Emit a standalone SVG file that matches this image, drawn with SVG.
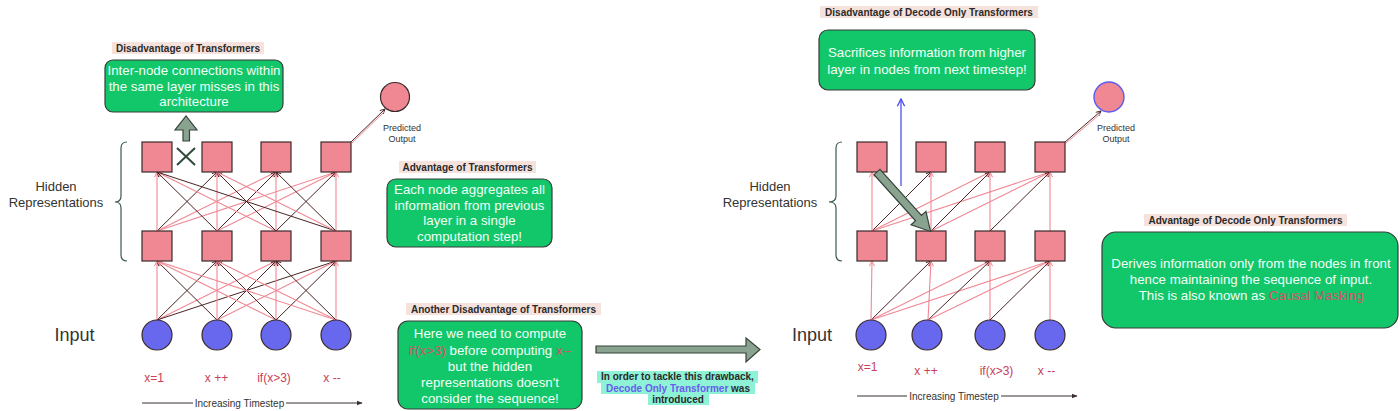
<svg xmlns="http://www.w3.org/2000/svg" width="1400" height="411" viewBox="0 0 1400 411">
<defs>
<style>
.sq{fill:#f08894;stroke:#3a2a2a;stroke-width:1.2}
.in{fill:#6868ee;stroke:#3a2a2a;stroke-width:1.2}
.ep{stroke:#f08894;stroke-width:1.1;fill:none;marker-end:url(#mp)}
.ed{stroke:#4a2424;stroke-width:1;fill:none;marker-end:url(#md)}
.box{fill:#12c769;stroke:#3a3a3a;stroke-width:1.2}
.bt{font-family:"Liberation Sans",Arial,sans-serif;font-size:13.3px;fill:#f2fff8;text-anchor:middle}
.tt{font-family:"Liberation Sans",Arial,sans-serif;font-size:10px;font-weight:bold;fill:#2a2a2a;text-anchor:middle}
.hl{fill:#f6e2dc}
.lab{font-family:"Liberation Sans",Arial,sans-serif;font-size:12px;fill:#c8405a;text-anchor:middle}
.big{font-family:"Liberation Sans",Arial,sans-serif;fill:#333;text-anchor:middle}
.pk{fill:#d8506e}
.sm{font-family:"Liberation Sans",Arial,sans-serif;font-size:9px;fill:#333;text-anchor:middle}
.ts{font-family:"Liberation Sans",Arial,sans-serif;font-size:10px;fill:#333;text-anchor:middle}
.brace{fill:none;stroke:#3c5a4a;stroke-width:1.2}
.blk{fill:#8aa290;stroke:#34443a;stroke-width:1.2}
</style>
<marker id="mp" viewBox="0 0 10 10" refX="9" refY="5" markerWidth="6" markerHeight="6" orient="auto"><path d="M1,1 L9,5 L1,9" fill="none" stroke="#f08894" stroke-width="1.5"/></marker>
<marker id="md" viewBox="0 0 10 10" refX="9" refY="5" markerWidth="6" markerHeight="6" orient="auto"><path d="M1,1 L9,5 L1,9" fill="none" stroke="#4a2424" stroke-width="1.5"/></marker>
<marker id="mb" viewBox="0 0 10 10" refX="9" refY="5" markerWidth="7" markerHeight="7" orient="auto"><path d="M1,1 L9,5 L1,9" fill="none" stroke="#4f4ff0" stroke-width="1.5"/></marker>
<marker id="mt" viewBox="0 0 10 10" refX="9" refY="5" markerWidth="6" markerHeight="6" orient="auto"><path d="M0,1 L10,5 L0,9 Z" fill="#3a3030"/></marker>
</defs>
<rect width="1400" height="411" fill="#ffffff"/>

<g id="connectors">
<line class="ep" x1="157" y1="320" x2="157" y2="261"/>
<line class="ed" x1="157" y1="320" x2="217" y2="261"/>
<line class="ep" x1="157" y1="320" x2="276" y2="261"/>
<line class="ed" x1="157" y1="320" x2="336" y2="261"/>
<line class="ed" x1="217" y1="320" x2="157" y2="261"/>
<line class="ep" x1="217" y1="320" x2="217" y2="261"/>
<line class="ed" x1="217" y1="320" x2="276" y2="261"/>
<line class="ep" x1="217" y1="320" x2="336" y2="261"/>
<line class="ep" x1="276" y1="320" x2="157" y2="261"/>
<line class="ed" x1="276" y1="320" x2="217" y2="261"/>
<line class="ep" x1="276" y1="320" x2="276" y2="261"/>
<line class="ed" x1="276" y1="320" x2="336" y2="261"/>
<line class="ep" x1="336" y1="320" x2="157" y2="261"/>
<line class="ep" x1="336" y1="320" x2="217" y2="261"/>
<line class="ed" x1="336" y1="320" x2="276" y2="261"/>
<line class="ep" x1="336" y1="320" x2="336" y2="261"/>
<line class="ep" x1="157" y1="231" x2="157" y2="172"/>
<line class="ed" x1="157" y1="231" x2="217" y2="172"/>
<line class="ep" x1="157" y1="231" x2="276" y2="172"/>
<line class="ep" x1="157" y1="231" x2="336" y2="172"/>
<line class="ed" x1="217" y1="231" x2="157" y2="172"/>
<line class="ep" x1="217" y1="231" x2="217" y2="172"/>
<line class="ed" x1="217" y1="231" x2="276" y2="172"/>
<line class="ep" x1="217" y1="231" x2="336" y2="172"/>
<line class="ep" x1="276" y1="231" x2="157" y2="172"/>
<line class="ed" x1="276" y1="231" x2="217" y2="172"/>
<line class="ep" x1="276" y1="231" x2="276" y2="172"/>
<line class="ed" x1="276" y1="231" x2="336" y2="172"/>
<line class="ed" x1="336" y1="231" x2="157" y2="172"/>
<line class="ep" x1="336" y1="231" x2="217" y2="172"/>
<line class="ed" x1="336" y1="231" x2="276" y2="172"/>
<line class="ep" x1="336" y1="231" x2="336" y2="172"/>
<line class="ed" x1="351" y1="142" x2="385" y2="109"/>
<line stroke="#f08894" stroke-width="1" x1="352" y1="143" x2="384" y2="112"/>

<line class="ep" x1="871" y1="320" x2="872" y2="261"/>
<line class="ed" x1="871" y1="320" x2="931" y2="261"/>
<line class="ep" x1="871" y1="320" x2="990" y2="261"/>
<line class="ep" x1="871" y1="320" x2="1050" y2="261"/>
<line class="ep" x1="928" y1="320" x2="931" y2="261"/>
<line class="ed" x1="928" y1="320" x2="990" y2="261"/>
<line class="ep" x1="928" y1="320" x2="1050" y2="261"/>
<line class="ep" x1="990" y1="320" x2="990" y2="261"/>
<line class="ed" x1="990" y1="320" x2="1050" y2="261"/>
<line class="ep" x1="1050" y1="320" x2="1050" y2="261"/>
<line class="ep" x1="872" y1="231" x2="872" y2="172"/>
<line class="ed" x1="872" y1="231" x2="931" y2="172"/>
<line class="ep" x1="872" y1="231" x2="990" y2="172"/>
<line class="ep" x1="872" y1="231" x2="1050" y2="172"/>
<line class="ep" x1="931" y1="231" x2="931" y2="172"/>
<line class="ed" x1="931" y1="231" x2="990" y2="172"/>
<line class="ep" x1="931" y1="231" x2="1050" y2="172"/>
<line class="ep" x1="990" y1="231" x2="990" y2="172"/>
<line class="ed" x1="990" y1="231" x2="1050" y2="172"/>
<line class="ep" x1="1050" y1="231" x2="1050" y2="172"/>
<line class="ed" x1="1065" y1="142" x2="1101" y2="111"/>
<line stroke="#f08894" stroke-width="1" x1="1066" y1="143" x2="1100" y2="114"/>
<line x1="901" y1="186" x2="901" y2="99" stroke="#4f4ff0" stroke-width="1.3" marker-end="url(#mb)"/>
<line x1="142" y1="403" x2="362" y2="403" stroke="#3a3030" stroke-width="1" marker-end="url(#mt)"/>
<line x1="857" y1="396" x2="1077" y2="396" stroke="#3a3030" stroke-width="1" marker-end="url(#mt)"/>
</g>

<g id="timestep-left"><rect x="193" y="396" width="93" height="13" fill="#fff"/><text class="ts" x="239.5" y="406.5">Increasing Timestep</text></g>
<g id="timestep-right"><rect x="907" y="389" width="94" height="13" fill="#fff"/><text class="ts" x="954" y="399.5">Increasing Timestep</text></g>

<g id="input-label-left"><text class="big" font-size="18" x="74.5" y="341">Input</text></g>
<g id="hidden-label-left">
<text class="big" font-size="13" x="56" y="190.5">Hidden</text>
<text class="big" font-size="13" x="56" y="206.5">Representations</text>
<path class="brace" d="M127,142 Q121,142 121,148 L121,196 Q121,202 115,202 Q121,202 121,208 L121,255 Q121,261 127,261"/>
</g>
<g id="top-left">
<rect class="sq" x="142" y="142" width="30" height="30"/>
<rect class="sq" x="202" y="142" width="30" height="30"/>
<rect class="sq" x="261" y="142" width="30" height="30"/>
<rect class="sq" x="321" y="142" width="30" height="30"/>
</g>
<g id="mid-left">
<rect class="sq" x="142" y="231" width="30" height="30"/>
<rect class="sq" x="202" y="231" width="30" height="30"/>
<rect class="sq" x="261" y="231" width="30" height="30"/>
<rect class="sq" x="321" y="231" width="30" height="30"/>
</g>
<g id="inputs-left">
<circle class="in" cx="157" cy="335" r="15"/>
<circle class="in" cx="217" cy="335" r="15"/>
<circle class="in" cx="276" cy="335" r="15"/>
<circle class="in" cx="336" cy="335" r="15"/>
</g>
<g id="labels-left">
<text class="lab" x="154" y="382">x=1</text>
<text class="lab" x="216.5" y="382">x ++</text>
<text class="lab" x="274" y="382">if(x&gt;3)</text>
<text class="lab" x="332" y="382">x --</text>
</g>
<g id="predicted-left">
<circle cx="395" cy="97" r="14.5" fill="#f08894" stroke="#3a2a2a" stroke-width="1.2"/>
<text class="sm" x="402" y="131">Predicted</text>
<text class="sm" x="402" y="141.5">Output</text>
</g>
<g id="cross-left">
<line x1="177" y1="148" x2="195" y2="165" stroke="#2f4a3a" stroke-width="2"/>
<line x1="177" y1="165" x2="195" y2="148" stroke="#2f4a3a" stroke-width="2"/>
</g>
<g id="up-arrow-left">
<path class="blk" d="M183,141 L183,130 L175,130 L186,116 L197,130 L189.5,130 L189.5,141 Z"/>
</g>
<g id="disadv-left">
<rect class="hl" x="112" y="42" width="152" height="12"/>
<text class="tt" x="188" y="51.5">Disadvantage of Transformers</text>
<rect class="box" x="105" y="60" width="178" height="52" rx="8"/>
<text class="bt" x="194" y="75">Inter-node connections within</text>
<text class="bt" x="194" y="90.5">the same layer misses in this</text>
<text class="bt" x="194" y="106">architecture</text>
</g>
<g id="adv-left">
<rect class="hl" x="399" y="161" width="137" height="12"/>
<text class="tt" x="467.5" y="170.5">Advantage of Transformers</text>
<rect class="box" x="387" y="179" width="165" height="68" rx="9"/>
<text class="bt" x="469.5" y="194">Each node aggregates all</text>
<text class="bt" x="469.5" y="209.5">information from previous</text>
<text class="bt" x="469.5" y="225">layer in a single</text>
<text class="bt" x="469.5" y="241">computation step!</text>
</g>
<g id="another-disadv">
<rect class="hl" x="406" y="303" width="195" height="12"/>
<text class="tt" x="503.5" y="312.5">Another Disadvantage of Transformers</text>
<rect class="box" x="398" y="321" width="184" height="88" rx="10"/>
<text class="bt" x="490" y="338">Here we need to compute</text>
<text class="bt" x="490" y="354.5"><tspan class="pk">if(x&gt;3)</tspan> before computing <tspan class="pk">x--</tspan></text>
<text class="bt" x="490" y="370.5">but the hidden</text>
<text class="bt" x="490" y="386.5">representations doesn't</text>
<text class="bt" x="490" y="402.5">consider the sequence!</text>
</g>
<g id="transition-arrow">
<path class="blk" d="M596,346 L746,346 L746,338 L760,349.5 L746,362 L746,353 L596,353 Z"/>
</g>
<g id="transition-note">
<rect x="597" y="371" width="161" height="12" fill="#8ef2d6"/>
<rect x="601" y="383" width="154" height="11" fill="#8ef2d6"/>
<rect x="648" y="394" width="61" height="11" fill="#8ef2d6"/>
<text class="tt" x="677.5" y="380">In order to tackle this drawback,</text>
<text class="tt" x="678" y="391.5"><tspan fill="#6a5cf0">Decode Only Transformer</tspan> was</text>
<text class="tt" x="678" y="402.5">introduced</text>
</g>

<g id="input-label-right"><text class="big" font-size="18" x="812" y="341">Input</text></g>
<g id="hidden-label-right">
<text class="big" font-size="13" x="770" y="190.5">Hidden</text>
<text class="big" font-size="13" x="770" y="206.5">Representations</text>
<path class="brace" d="M842,142 Q836,142 836,148 L836,196 Q836,202 829,202 Q836,202 836,208 L836,255 Q836,261 842,261"/>
</g>
<g id="top-right">
<rect class="sq" x="857" y="142" width="30" height="30"/>
<rect class="sq" x="916" y="142" width="30" height="30"/>
<rect class="sq" x="975" y="142" width="30" height="30"/>
<rect class="sq" x="1035" y="142" width="30" height="30"/>
</g>
<g id="mid-right">
<rect class="sq" x="857" y="231" width="30" height="30"/>
<rect class="sq" x="916" y="231" width="30" height="30"/>
<rect class="sq" x="975" y="231" width="30" height="30"/>
<rect class="sq" x="1035" y="231" width="30" height="30"/>
</g>
<g id="inputs-right">
<circle class="in" cx="871" cy="335" r="15"/>
<circle class="in" cx="927" cy="335" r="15"/>
<circle class="in" cx="990" cy="335" r="15"/>
<circle class="in" cx="1050" cy="335" r="15"/>
</g>
<g id="labels-right">
<text class="lab" x="867.5" y="371">x=1</text>
<text class="lab" x="926" y="375">x ++</text>
<text class="lab" x="996.5" y="375">if(x&gt;3)</text>
<text class="lab" x="1046.5" y="375">x --</text>
</g>
<g id="predicted-right">
<circle cx="1109" cy="97" r="15" fill="#f08894" stroke="#5a5af0" stroke-width="1.4"/>
<text class="sm" x="1116" y="131">Predicted</text>
<text class="sm" x="1116" y="141.5">Output</text>
</g>
<g id="diag-arrow-right">
<path class="blk" transform="translate(877,172) rotate(48)" d="M0,-4 L62,-4 L62,-10 L80,0 L62,10 L62,4 L0,4 Z"/>
</g>
<g id="disadv-right">
<rect class="hl" x="820" y="6" width="218" height="12"/>
<text class="tt" x="929" y="15.5">Disadvantage of Decode Only Transformers</text>
<rect class="box" x="819" y="30" width="216" height="60" rx="9"/>
<text class="bt" x="927" y="57">Sacrifices information from higher</text>
<text class="bt" x="927" y="74">layer in nodes from next timestep!</text>
</g>
<g id="adv-right">
<rect class="hl" x="1144" y="214" width="203" height="12"/>
<text class="tt" x="1245.5" y="223.5">Advantage of Decode Only Transformers</text>
<rect class="box" x="1102" y="232" width="296" height="96" rx="14"/>
<text class="bt" x="1251" y="268">Derives information only from the nodes in front</text>
<text class="bt" x="1251" y="284">hence maintaining the sequence of input.</text>
<text class="bt" x="1251" y="300">This is also known as <tspan class="pk">Causal Masking</tspan></text>
</g>
</svg>
